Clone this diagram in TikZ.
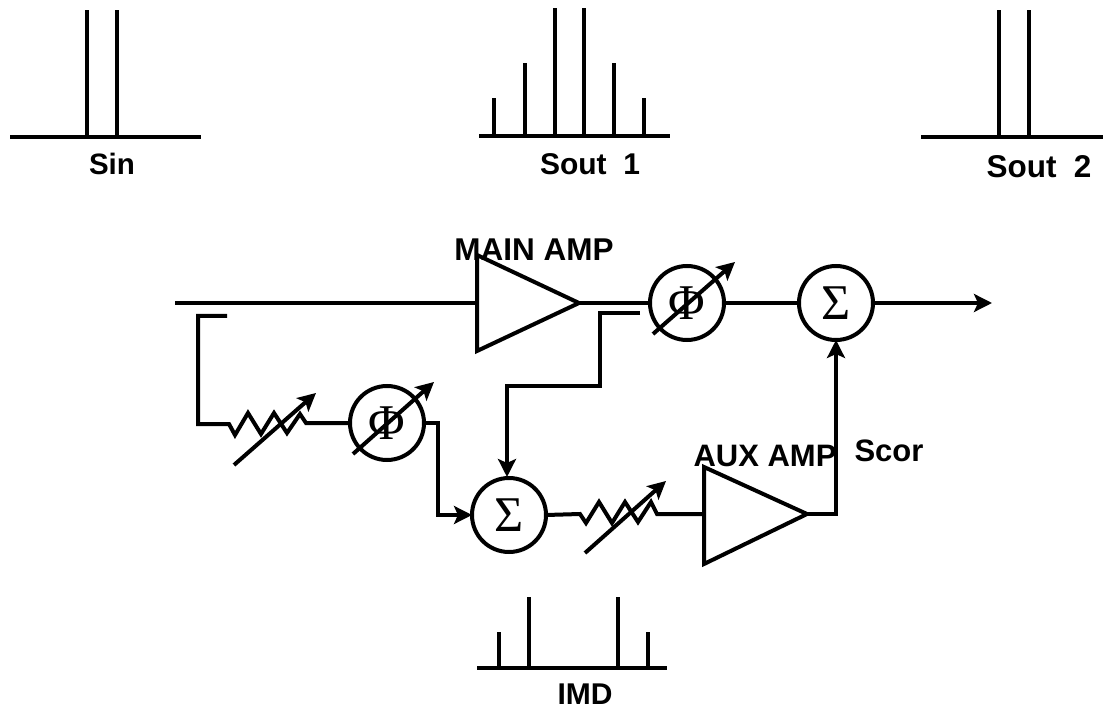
\documentclass[tikz,border=0pt]{standalone}
\usepackage{fontspec}
\setmainfont{Liberation Sans}
\newfontfamily\symfont{Liberation Serif}
\usetikzlibrary{arrows.meta}
\tikzset{
  x=1pt,y=-1pt,
  wire/.style={line width=4pt,line join=miter},
  arr/.style={-{Stealth[length=18pt,width=18pt,inset=4pt]}},
  lab/.style={font=\fontsize{#1}{#1}\selectfont\bfseries,inner sep=0pt,anchor=center},
  lab/.default=30,
  circ/.style={circle,draw,line width=4pt,minimum size=74pt,inner sep=0pt,outer sep=0pt,font=\symfont\fontsize{50}{52}\selectfont},
}
\begin{document}
\begin{tikzpicture}
\useasboundingbox (0,0) rectangle (1103,708);
% spectra
\foreach \nm/\a/\b/\yy in {sin/10/201/137,soutb/921/1103/137,soutc/479/670/136,imd/477/667/668}{
  \coordinate (\nm L) at (\a,\yy); \coordinate (\nm R) at (\b,\yy);
  \draw[wire] (\nm L) -- (\nm R);
}
\foreach \x/\top/\yy in {87/10/137,117/10/137,999/10/137,1029/10/137,494/98/136,525/63/136,555/8/136,584/8/136,614/63/136,644/98/136,499/632/668,529/597/668,618/597/668,648/632/668}{
  \draw[wire] (\x,\yy) -- (\x,\top);
}
\node[lab=29.5] (tSin) at (112,164) {Sin};
\node[lab=30] (tS1) at (590,164) {Sout\ \ 1};
\node[lab=31.5] (tS2) at (1039,167) {Sout\ \ 2};
\node[lab=30] (tIMD) at (585,694) {IMD};
% nodes
\node[circ] (phiB) at (687,303) {Φ};
\node[circ] (sigB) at (836,303) {Σ};
\node[circ] (phiA) at (387,423) {Φ};
\node[circ] (sigA) at (509,515) {Σ};
% amplifiers
\coordinate (mT) at (477,255); \coordinate (mB) at (477,351); \coordinate (mTip) at (579,303); \coordinate (mIn) at (477,303);
\coordinate (aT) at (704,467); \coordinate (aB) at (704,564); \coordinate (aTip) at (807,514); \coordinate (aIn) at (704,514);
\draw[wire] (mT) -- (mTip) -- (mB) -- cycle;
\draw[wire] (aT) -- (aTip) -- (aB) -- cycle;
% main path
\coordinate (in) at (175,303); \coordinate (out) at (992,303);
\draw[wire] (in) -- (mIn);
\draw[wire] (mTip) -- (phiB);
\draw[wire] (phiB) -- (sigB);
\draw[wire,arr] (sigB) -- (out);
% input coupler and attenuator 1
\coordinate (cA) at (227,316); \coordinate (rA) at (229,424); \coordinate (rAe) at (306,423);
\draw[wire] (cA) -- (198,316) -- (198,424) -- (rA)
  -- (235,435) -- (248,413) -- (261,434) -- (274,413) -- (287,433) -- (300,414) -- (rAe) -- (phiA);
\coordinate (vAa) at (234,465); \coordinate (vAb) at (316,393);
\draw[wire,arr] (vAa) -- (vAb);
\coordinate (vPa) at (353,454); \coordinate (vPb) at (434,382);
\draw[wire,arr] (vPa) -- (vPb);
% phi A to sum
\draw[wire,arr] (phiA.east) -- (438,423) -- (438,515) -- (sigA.west);
% output coupler
\coordinate (cB) at (640,313);
\draw[wire,arr] (cB) -- (600,313) -- (600,386) -- (507,386) -- (507,477);
% attenuator 2
\coordinate (rB) at (580,514); \coordinate (rBe) at (657,514);
\draw[wire] (sigA.east) -- (rB) -- (586,523) -- (599,502) -- (612,523) -- (625,502) -- (638,522) -- (651,502) -- (rBe) -- (aIn);
\coordinate (vBa) at (585,553); \coordinate (vBb) at (666,481);
\draw[wire,arr] (vBa) -- (vBb);
\coordinate (vQa) at (653,334); \coordinate (vQb) at (735,262);
\draw[wire,arr] (vQa) -- (vQb);
% aux out
\draw[wire,arr] (aTip) -- (836,514) -- (sigB.south);
% labels
\node[lab=31.5] (tMain) at (534,250) {MAIN AMP};
\node[lab=31] (tAux) at (765,456) {AUX AMP};
\node[lab=31] (tScor) at (889,451) {Scor};
\end{tikzpicture}
\end{document}
